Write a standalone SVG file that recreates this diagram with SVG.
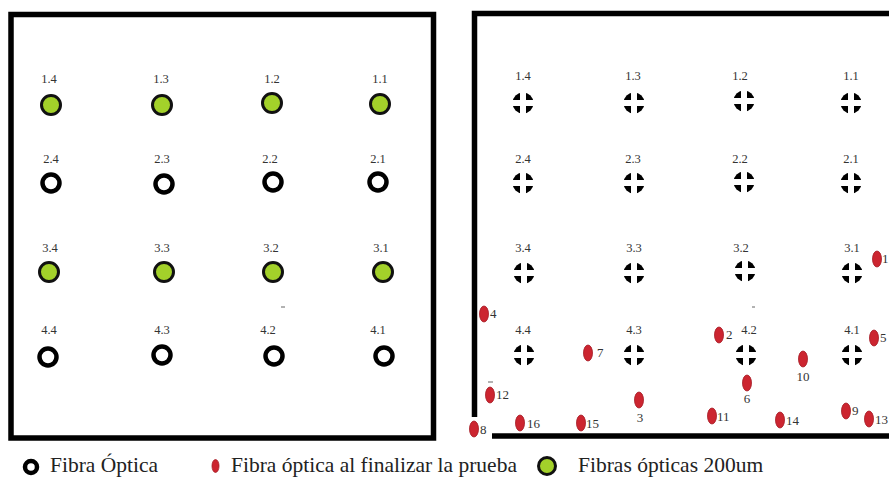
<svg xmlns="http://www.w3.org/2000/svg" xmlns:xlink="http://www.w3.org/1999/xlink" width="889" height="478" viewBox="0 0 889 478">
<style>
.frame{fill:none;stroke:#000;stroke-width:5.5}
.lbl{font-family:"Liberation Serif",serif;font-size:12.5px;fill:#333;text-anchor:middle}
.rl{font-family:"Liberation Serif",serif;font-size:13px;fill:#333}
.leg{font-family:"Liberation Serif",serif;font-size:21.5px;fill:#222}
.green{fill:#a3d12a;stroke:#111;stroke-width:3}
.open{fill:#fff;stroke:#000;stroke-width:4.5}
.red{fill:#cc2530;stroke:#a51b24;stroke-width:0.8}
.dash{stroke:#666;stroke-width:1}
</style>
<defs>
<g id="cross">
<circle r="10.5" fill="#000"/>
<rect x="-12" y="-3" width="24" height="6" fill="#fff"/>
<rect x="-3" y="-12" width="6" height="24" fill="#fff"/>
</g>
</defs>

<g id="frames">
<rect class="frame" x="11" y="14.5" width="422.5" height="423.5"/>
<path class="frame" d="M474.5 417 V13.5 H895"/>
<path class="frame" d="M492 436 H895"/>
</g>

<g id="left-panel">
<g id="L1.4"><text class="lbl" x="49" y="83">1.4</text><circle class="green" cx="51" cy="105" r="9.5"/></g>
<g id="L1.3"><text class="lbl" x="161" y="83">1.3</text><circle class="green" cx="162" cy="105" r="9.5"/></g>
<g id="L1.2"><text class="lbl" x="272" y="83">1.2</text><circle class="green" cx="272" cy="103" r="9.5"/></g>
<g id="L1.1"><text class="lbl" x="380" y="83">1.1</text><circle class="green" cx="380" cy="104" r="9.5"/></g>

<g id="L2.4"><text class="lbl" x="51" y="163">2.4</text><circle class="open" cx="51" cy="183" r="8.5"/></g>
<g id="L2.3"><text class="lbl" x="162" y="163">2.3</text><circle class="open" cx="164" cy="184" r="8.5"/></g>
<g id="L2.2"><text class="lbl" x="270" y="163">2.2</text><circle class="open" cx="273" cy="182" r="8.5"/></g>
<g id="L2.1"><text class="lbl" x="378" y="163">2.1</text><circle class="open" cx="378" cy="182" r="8.5"/></g>

<g id="L3.4"><text class="lbl" x="50" y="252">3.4</text><circle class="green" cx="49" cy="272" r="9.5"/></g>
<g id="L3.3"><text class="lbl" x="162" y="252">3.3</text><circle class="green" cx="164" cy="272" r="9.5"/></g>
<g id="L3.2"><text class="lbl" x="271" y="252">3.2</text><circle class="green" cx="273" cy="272" r="9.5"/></g>
<g id="L3.1"><text class="lbl" x="381" y="252">3.1</text><circle class="green" cx="383" cy="272" r="9.5"/></g>

<g id="L4.4"><text class="lbl" x="49" y="334">4.4</text><circle class="open" cx="48" cy="357" r="8.5"/></g>
<g id="L4.3"><text class="lbl" x="162" y="334">4.3</text><circle class="open" cx="162" cy="355" r="8.5"/></g>
<g id="L4.2"><text class="lbl" x="268" y="334">4.2</text><circle class="open" cx="274" cy="356" r="8.5"/></g>
<g id="L4.1"><text class="lbl" x="378" y="334">4.1</text><circle class="open" cx="384" cy="356" r="8.5"/></g>
<line class="dash" x1="281" y1="307" x2="285" y2="307"/>
</g>

<g id="right-panel">
<g id="R1.4"><text class="lbl" x="523" y="80">1.4</text><use xlink:href="#cross" x="523" y="103"/></g>
<g id="R1.3"><text class="lbl" x="633" y="80">1.3</text><use xlink:href="#cross" x="634" y="103"/></g>
<g id="R1.2"><text class="lbl" x="740" y="80">1.2</text><use xlink:href="#cross" x="744" y="101"/></g>
<g id="R1.1"><text class="lbl" x="851" y="80">1.1</text><use xlink:href="#cross" x="851" y="103"/></g>

<g id="R2.4"><text class="lbl" x="523" y="163">2.4</text><use xlink:href="#cross" x="523" y="183"/></g>
<g id="R2.3"><text class="lbl" x="633" y="163">2.3</text><use xlink:href="#cross" x="634" y="183"/></g>
<g id="R2.2"><text class="lbl" x="740" y="163">2.2</text><use xlink:href="#cross" x="744" y="182"/></g>
<g id="R2.1"><text class="lbl" x="851" y="163">2.1</text><use xlink:href="#cross" x="851" y="183"/></g>

<g id="R3.4"><text class="lbl" x="523" y="252">3.4</text><use xlink:href="#cross" x="524" y="273"/></g>
<g id="R3.3"><text class="lbl" x="634" y="252">3.3</text><use xlink:href="#cross" x="634" y="273"/></g>
<g id="R3.2"><text class="lbl" x="741" y="252">3.2</text><use xlink:href="#cross" x="745" y="271"/></g>
<g id="R3.1"><text class="lbl" x="852" y="252">3.1</text><use xlink:href="#cross" x="852" y="273"/></g>

<g id="R4.4"><text class="lbl" x="523" y="334">4.4</text><use xlink:href="#cross" x="524" y="355"/></g>
<g id="R4.3"><text class="lbl" x="634" y="334">4.3</text><use xlink:href="#cross" x="634" y="355"/></g>
<g id="R4.2"><text class="lbl" x="749" y="334">4.2</text><use xlink:href="#cross" x="746" y="355"/></g>
<g id="R4.1"><text class="lbl" x="852" y="334">4.1</text><use xlink:href="#cross" x="852" y="355"/></g>
<line class="dash" x1="752" y1="307" x2="755" y2="307"/>
</g>

<g id="red-markers">
<g id="m1"><ellipse class="red" cx="877" cy="259" rx="4.5" ry="8"/><text class="rl" x="882" y="263">1</text></g>
<g id="m2"><ellipse class="red" cx="719" cy="335" rx="4.5" ry="8"/><text class="rl" x="726" y="339">2</text></g>
<g id="m3"><ellipse class="red" cx="639" cy="400" rx="4.5" ry="8"/><text class="rl" x="640" y="422" text-anchor="middle">3</text></g>
<g id="m4"><ellipse class="red" cx="484" cy="314" rx="4.5" ry="8"/><text class="rl" x="490" y="318">4</text></g>
<g id="m5"><ellipse class="red" cx="874" cy="338" rx="4.5" ry="8"/><text class="rl" x="880" y="342">5</text></g>
<g id="m6"><ellipse class="red" cx="747" cy="383" rx="4.5" ry="8"/><text class="rl" x="747" y="403" text-anchor="middle">6</text></g>
<g id="m7"><ellipse class="red" cx="588" cy="353" rx="4.5" ry="8"/><text class="rl" x="597" y="357">7</text></g>
<g id="m8"><ellipse class="red" cx="474" cy="429" rx="4.5" ry="8"/><text class="rl" x="480" y="434">8</text></g>
<g id="m9"><ellipse class="red" cx="846" cy="411" rx="4.5" ry="8"/><text class="rl" x="852" y="415">9</text></g>
<g id="m10"><ellipse class="red" cx="803" cy="359" rx="4.5" ry="8"/><text class="rl" x="803" y="381" text-anchor="middle">10</text></g>
<g id="m11"><ellipse class="red" cx="712" cy="416" rx="4.5" ry="8"/><text class="rl" x="717" y="421">11</text></g>
<g id="m12"><ellipse class="red" cx="490" cy="395" rx="4.5" ry="8"/><text class="rl" x="496" y="399">12</text><line class="dash" x1="488" y1="382" x2="493" y2="382"/></g>
<g id="m13"><ellipse class="red" cx="869" cy="419" rx="4.5" ry="8"/><text class="rl" x="875" y="424" font-size="12.5">13</text></g>
<g id="m14"><ellipse class="red" cx="780" cy="420" rx="4.5" ry="8"/><text class="rl" x="786" y="425">14</text></g>
<g id="m15"><ellipse class="red" cx="581" cy="423" rx="4.5" ry="8"/><text class="rl" x="586" y="428">15</text></g>
<g id="m16"><ellipse class="red" cx="520" cy="423" rx="4.5" ry="8"/><text class="rl" x="527" y="428">16</text></g>
</g>

<g id="legend">
<circle class="open" cx="31" cy="467" r="6"/>
<text class="leg" x="50" y="472">Fibra Óptica</text>
<ellipse class="red" cx="215.5" cy="466" rx="3.5" ry="6.5"/>
<text class="leg" x="231" y="472">Fibra óptica al finalizar la prueba</text>
<circle class="green" cx="547" cy="466" r="8.5"/>
<text class="leg" x="578" y="472">Fibras ópticas 200um</text>
</g>
</svg>
